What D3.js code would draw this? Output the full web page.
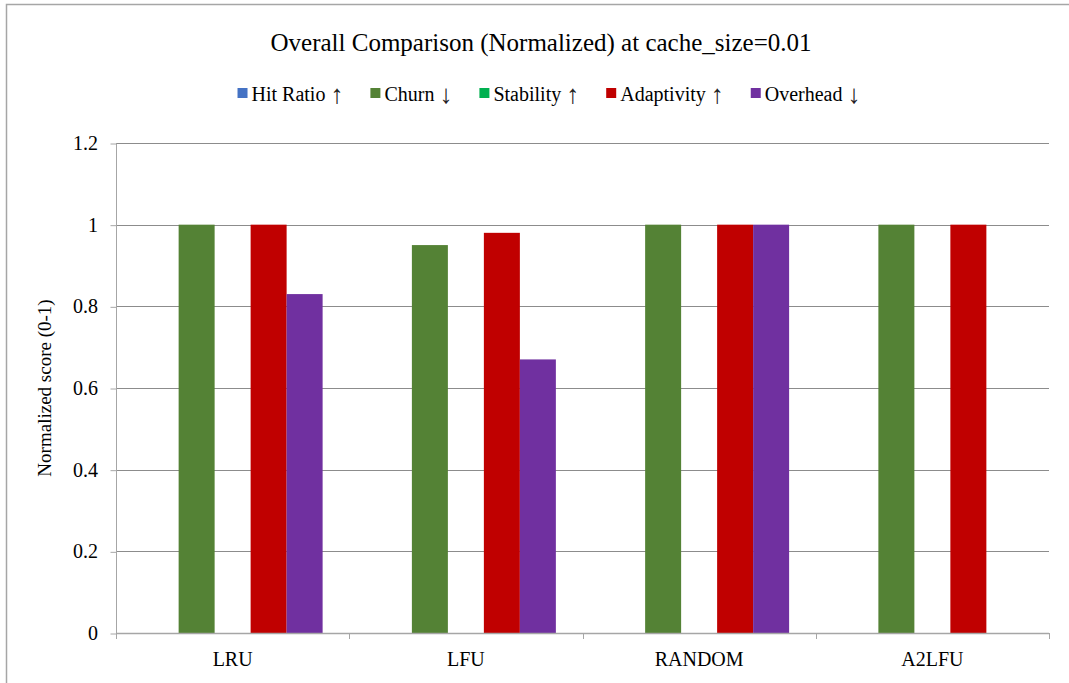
<!DOCTYPE html>
<html>
<head>
<meta charset="utf-8">
<script src="https://cdn.jsdelivr.net/npm/d3@7"></script>
</head>
<body style="margin:0">
<svg id="chart" width="1069" height="683" font-family="Liberation Serif"></svg>
<script>
// Policies compared and the normalized score for each metric
const categories = ["LRU", "LFU", "RANDOM", "A2LFU"];
const seriesNames = ["Hit Ratio", "Churn", "Stability", "Adaptivity", "Overhead"];
const seriesArrows = ["\u2191", "\u2193", "\u2191", "\u2191", "\u2193"];
const seriesColors = ["#4472C4", "#548235", "#00B050", "#C00000", "#7030A0"];
const hitRatio   = [0, 0, 0, 0];
const churn      = [1, 0.95, 1, 1];
const stability  = [0, 0, 0, 0];
const adaptivity = [1, 0.98, 1, 1];
const overhead   = [0.83, 0.67, 1, 0];
const yTicks = [0, 0.2, 0.4, 0.6, 0.8, 1, 1.2];
const yTickLabels = ["0", "0.2", "0.4", "0.6", "0.8", "1", "1.2"];

const seriesValues = [hitRatio, churn, stability, adaptivity, overhead];

const svg = d3.select("#chart")
  .style("font-family", "'Liberation Serif', 'Times New Roman', Tinos, serif", "important");
const plot = { left: 116, right: 1049, top: 143, bottom: 633 };

// All labels share one serif face
function label(parent, size) {
  return parent.append("text")
    .attr("font-family", "Liberation Serif")
    .style("font-family", "'Liberation Serif', 'Times New Roman', Tinos, serif", "important")
    .attr("font-size", size)
    .attr("fill", "#000");
}

// Outer chart frame (only left and top edges fall inside the view)
svg.append("path")
  .attr("d", "M6.5,700 V4.5 H1080")
  .attr("fill", "none")
  .attr("stroke", "#a6a6a6")
  .attr("stroke-width", 1.5);

const x = d3.scaleBand().domain(categories).range([plot.left, plot.right]).padding(0);
const xs = d3.scaleBand().domain(d3.range(seriesNames.length)).range([0, x.bandwidth()])
  .paddingInner(0).paddingOuter(0.74);
const y = d3.scaleLinear().domain([0, 1.2]).range([plot.bottom, plot.top]);

// Horizontal gridlines
svg.append("g").selectAll("line")
  .data(yTicks.filter(t => t > 0))
  .join("line")
  .attr("x1", plot.left).attr("x2", plot.right)
  .attr("y1", d => Math.round(y(d)) + 0.5).attr("y2", d => Math.round(y(d)) + 0.5)
  .attr("stroke", "#8c8c8c").attr("stroke-width", 1);

// Bars
const rows = [];
categories.forEach((c, i) => seriesValues.forEach((vals, s) => rows.push({ c, s, v: vals[i] })));
svg.append("g").selectAll("rect")
  .data(rows.filter(d => d.v > 0))
  .join("rect")
  .attr("x", d => x(d.c) + xs(d.s))
  .attr("width", xs.bandwidth())
  .attr("y", d => y(d.v))
  .attr("height", d => y(0) - y(d.v))
  .attr("fill", d => seriesColors[d.s]);

// Y axis: line and tick marks from the axis generator, labels drawn beside them
const yAxis = d3.axisLeft(y).tickValues(yTicks).tickFormat("").tickSize(6);
const gy = svg.append("g").attr("transform", `translate(${plot.left + 0.5},0.5)`).call(yAxis);
gy.select(".domain").attr("stroke", "#a6a6a6").attr("d", `M0,${plot.top}V${plot.bottom}`);
gy.selectAll(".tick line").attr("stroke", "#a6a6a6");
yTicks.forEach((t, i) => {
  label(svg, 20)
    .attr("x", plot.left - 18).attr("y", y(t) + 7)
    .attr("text-anchor", "end")
    .text(yTickLabels[i]);
});

// X axis with tick marks on the category boundaries
const gx = svg.append("g");
gx.append("line")
  .attr("x1", plot.left).attr("x2", plot.right)
  .attr("y1", plot.bottom + 0.5).attr("y2", plot.bottom + 0.5)
  .attr("stroke", "#a6a6a6").attr("stroke-width", 1.5);
const bounds = categories.map(c => x(c)).concat([x(categories[categories.length - 1]) + x.bandwidth()]);
gx.selectAll("line.b").data(bounds).join("line").attr("class", "b")
  .attr("x1", d => Math.round(d) + 0.5).attr("x2", d => Math.round(d) + 0.5)
  .attr("y1", plot.bottom).attr("y2", plot.bottom + 6)
  .attr("stroke", "#a6a6a6");
categories.forEach(c => {
  label(gx, 20)
    .attr("x", x(c) + x.bandwidth() / 2)
    .attr("y", 666)
    .attr("text-anchor", "middle")
    .text(c);
});

// Y axis title
label(svg, 19)
  .attr("transform", `translate(51,${(plot.top + plot.bottom) / 2}) rotate(-90)`)
  .attr("text-anchor", "middle")
  .text("Normalized score (0-1)");

// Chart title
label(svg, 25)
  .attr("x", 541).attr("y", 51)
  .attr("text-anchor", "middle")
  .text("Overall Comparison (Normalized) at cache_size=0.01");

// Legend
const legend = svg.append("g");
const widths = [];
seriesNames.forEach((name, i) => {
  const item = legend.append("g");
  item.append("rect")
    .attr("width", 10).attr("height", 10)
    .attr("y", 88)
    .attr("fill", seriesColors[i]);
  const t = label(item, 20).attr("x", 14).attr("y", 101);
  t.append("tspan").text(name + " ");
  t.append("tspan").attr("font-size", 26).attr("dy", 2).attr("fill", "#222").text(seriesArrows[i]);
  widths.push(14 + t.node().getComputedTextLength());
});
const gap = 27;
let cursor = 549 - (d3.sum(widths) + gap * (widths.length - 1)) / 2;
legend.selectAll(":scope > g").attr("transform", (d, i) => {
  const tr = `translate(${cursor},0)`;
  cursor += widths[i] + gap;
  return tr;
});
</script>
</body>
</html>
